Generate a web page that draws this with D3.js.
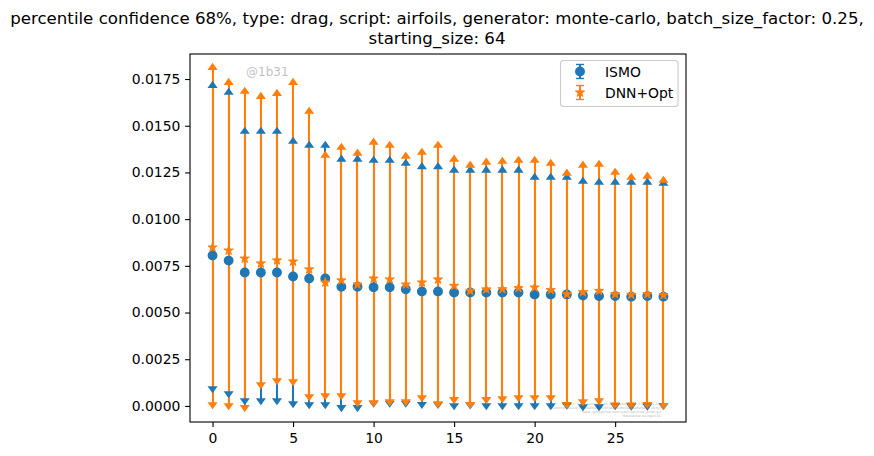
<!DOCTYPE html>
<html lang="en">
<head>
    <meta charset="UTF-8">
    <title>percentile confidence 68%</title>
    <style>
        body {
            margin: 0;
            padding: 0;
            background-color: #ffffff;
            overflow: hidden;
        }
        svg {
            display: block;
            font-family: 'DejaVu Sans', sans-serif;
        }
        .axis text {
            font-size: 13.9px;
            fill: #000000;
            font-family: 'DejaVu Sans', sans-serif;
        }
        .axis path, .axis line {
            stroke: #000000;
            stroke-width: 1.1px;
        }
    </style>
</head>
<body>
    <div id="chart"></div>

    <script src="https://d3js.org/d3.v7.min.js"></script>
    <script>
        const titleLines = [
            'percentile confidence 68%, type: drag, script: airfoils, generator: monte-carlo, batch_size_factor: 0.25,',
            'starting_size: 64'
        ];
        const xTicks = [0, 5, 10, 15, 20, 25];
        const yTicks = [0, 0.0025, 0.005, 0.0075, 0.01, 0.0125, 0.015, 0.0175];

        const iterations = d3.range(29);

        const ismoMean = [.00805, .00778, .00714, .00714, .00714, .00693, .00682, .00682, .00638, .00638,
            .00635, .00635, .00624, .00613, .00613, .00607, .00607, .00607, .00607, .00607,
            .00597, .00597, .00597, .00591, .00588, .00588, .00585, .00588, .00585];
        const ismoUpper = [.01719, .01682, .01473, .01473, .01473, .01420, .01398, .01398, .01324, .01324,
            .01318, .01318, .01302, .01284, .01284, .01265, .01265, .01265, .01265, .01265,
            .01227, .01227, .01227, .01206, .01200, .01200, .01200, .01200, .01195];
        const ismoLower = [.00089, .00062, .00025, .00025, .00025, .00009, .00004, .00004, -.00012, -.00012,
            .00012, .00012, .00012, .00005, .00005, -.00002, .00002, -.00002, -.00002, -.00002,
            -.00002, -.00002, .00001, -.00007, -.00007, -.00002, -.00004, -.00004, -.00002];

        const dnnMean = [.00848, .00832, .00789, .00763, .00779, .00773, .00731, .00661, .00672, .00650,
            .00682, .00677, .00650, .00661, .00677, .00643, .00616, .00624, .00625, .00631,
            .00634, .00620, .00598, .00609, .00616, .00598, .00595, .00598, .00593];
        const dnnUpper = [.01815, .01735, .01687, .01660, .01676, .01735, .01580, .01345, .01388, .01356,
            .01415, .01398, .01340, .01361, .01398, .01324, .01292, .01308, .01313, .01318,
            .01318, .01302, .01249, .01292, .01297, .01254, .01227, .01233, .01211];
        const dnnLower = [.00004, -.00002, -.00012, .00111, .00132, .00127, .00046, .00052, .00052, .00014,
            .00014, .00020, .00020, .00041, .00009, .00031, .00005, .00031, .00036, .00041,
            .00041, .00041, .00005, .00020, .00025, .00002, .00002, .00005, .00000];

        const width = 874;
        const height = 456;
        const plotLeft = 190, plotRight = 686, plotTop = 54, plotBottom = 422;
        const blue = '#1f77b4', orange = '#ff7f0e';

        const x = d3.scaleLinear().domain([-1.4, 29.4]).range([plotLeft, plotRight]);
        const y = d3.scaleLinear().domain([-0.00086, 0.01884]).range([plotBottom, plotTop]);

        const svg = d3.select('#chart')
            .append('svg')
            .attr('width', width)
            .attr('height', height);

        svg.selectAll('.title')
            .data(titleLines)
            .enter().append('text')
            .attr('class', 'title')
            .attr('x', 437)
            .attr('y', (d, i) => 24 + i * 20)
            .attr('text-anchor', 'middle')
            .attr('font-size', '16.64px')
            .text(d => d);

        const triangle = d3.symbol().type(d3.symbolTriangle).size(40)();
        const star = d3.symbol().type(d3.symbolStar).size(26)();
        const dot = d3.symbol().type(d3.symbolCircle).size(58)();
        // flatter caret, centred on its box instead of its centroid
        const caret = 'translate(0,0.7) scale(1.05,0.85)';

        // all error lines sit under all the markers, like matplotlib draws them
        function drawBars(upper, lower, colour) {
            svg.append('g').selectAll('line')
                .data(iterations)
                .enter().append('line')
                .attr('x1', d => Math.round(x(d)))
                .attr('x2', d => Math.round(x(d)))
                .attr('y1', d => y(lower[d]))
                .attr('y2', d => y(upper[d]))
                .attr('stroke', colour)
                .attr('stroke-width', 2.08);
        }

        function drawMarks(mean, upper, lower, colour, meanPath, meanStroke) {
            const g = svg.append('g');
            g.selectAll('.mean')
                .data(iterations)
                .enter().append('path')
                .attr('class', 'mean')
                .attr('d', meanPath)
                .attr('transform', d => `translate(${x(d)},${y(mean[d])})`)
                .attr('fill', colour)
                .attr('stroke', colour)
                .attr('stroke-width', meanStroke);
            g.selectAll('.up')
                .data(iterations)
                .enter().append('path')
                .attr('class', 'up')
                .attr('d', triangle)
                .attr('transform', d => `translate(${x(d)},${y(upper[d])}) ${caret}`)
                .attr('fill', colour);
            g.selectAll('.down')
                .data(iterations)
                .enter().append('path')
                .attr('class', 'down')
                .attr('d', triangle)
                .attr('transform', d => `translate(${x(d)},${y(lower[d])}) rotate(180) ${caret}`)
                .attr('fill', colour);
        }

        drawBars(ismoUpper, ismoLower, blue);
        drawBars(dnnUpper, dnnLower, orange);
        drawMarks(ismoMean, ismoUpper, ismoLower, blue, dot, 1.3);
        drawMarks(dnnMean, dnnUpper, dnnLower, orange, star, 1);

        // frame and axes
        svg.append('rect')
            .attr('x', plotLeft).attr('y', plotTop)
            .attr('width', plotRight - plotLeft).attr('height', plotBottom - plotTop)
            .attr('fill', 'none')
            .attr('stroke', '#000')
            .attr('stroke-width', 1.1);

        svg.append('g')
            .attr('class', 'axis')
            .attr('transform', `translate(0,${plotBottom})`)
            .call(d3.axisBottom(x).tickValues(xTicks).tickFormat(d3.format('d')).tickSize(4.9).tickPadding(6.5))
            .select('.domain').remove();

        svg.append('g')
            .attr('class', 'axis')
            .attr('transform', `translate(${plotLeft},0)`)
            .call(d3.axisLeft(y).tickValues(yTicks).tickFormat(d3.format('.4f')).tickSize(4.9).tickPadding(4.8))
            .select('.domain').remove();

        // watermarks
        svg.append('text')
            .attr('x', 246).attr('y', 76)
            .attr('font-size', '12px')
            .attr('fill', '#000')
            .attr('opacity', 0.25)
            .text('@1b31');

        const stamp = [
            'Python: 3.7.1  numpy: 1.16.2  matplotlib: 3.0.3  keras: 2.2.4',
            'Commit: 1b31c2f7a9e04d6c8b5f3a1e7d9c0b2f4a6e8d10 (dirty)',
            'Repo: git@github.com:kjetil-lye/ismo_airfoil.git',
            'Hostname: eu.login.01'
        ];
        svg.selectAll('.stamp')
            .data(stamp)
            .enter().append('text')
            .attr('class', 'stamp')
            .attr('x', 661)
            .attr('y', (d, i) => 404.5 + i * 4.2)
            .attr('text-anchor', 'end')
            .attr('font-size', '3.4px')
            .attr('fill', '#000')
            .attr('opacity', 0.3)
            .text(d => d);

        // legend
        const legend = svg.append('g');
        legend.append('rect')
            .attr('x', 560.5).attr('y', 60.5)
            .attr('width', 117.5).attr('height', 46)
            .attr('rx', 3)
            .attr('fill', '#fff')
            .attr('fill-opacity', 0.8)
            .attr('stroke', '#ccc')
            .attr('stroke-width', 1.1);

        const legendRows = [
            { label: 'ISMO', colour: blue, mark: dot, stroke: 1.3, cy: 71.5 },
            { label: 'DNN+Opt', colour: orange, mark: star, stroke: 1, cy: 92.5 }
        ];
        const rows = legend.selectAll('.row')
            .data(legendRows)
            .enter().append('g')
            .attr('transform', d => `translate(580,${d.cy})`);
        rows.append('line')
            .attr('y1', -7).attr('y2', 7)
            .attr('stroke', d => d.colour)
            .attr('stroke-width', 2);
        rows.selectAll('.cap')
            .data(d => [-7, 7].map(v => ({ v, colour: d.colour })))
            .enter().append('line')
            .attr('x1', -4).attr('x2', 4)
            .attr('y1', d => d.v).attr('y2', d => d.v)
            .attr('stroke', d => d.colour)
            .attr('stroke-width', 1.4);
        rows.append('path')
            .attr('d', d => d.mark)
            .attr('fill', d => d.colour)
            .attr('stroke', d => d.colour)
            .attr('stroke-width', d => d.stroke);
        rows.append('text')
            .attr('x', 25)
            .attr('y', 5.5)
            .attr('font-size', '13.9px')
            .text(d => d.label);
    </script>
</body>
</html>
